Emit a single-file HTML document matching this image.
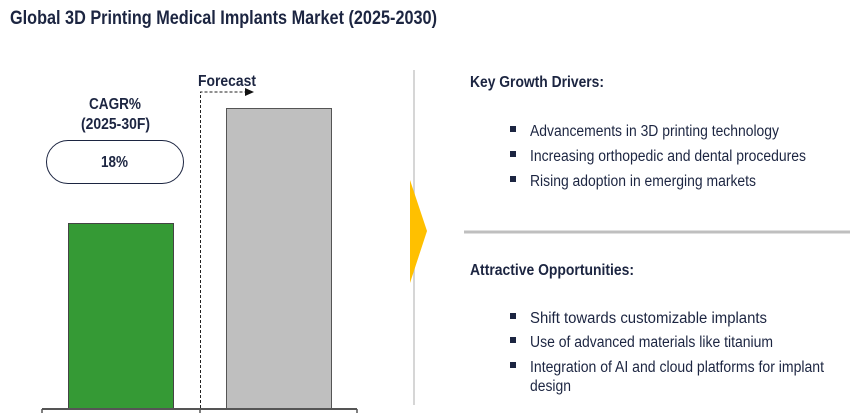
<!DOCTYPE html>
<html><head><style>
html,body{margin:0;padding:0;background:#fff;}
svg{display:block;}
text{font-family:"Liberation Sans",Arial,sans-serif;fill:#1c2541;}
.b{font-weight:bold;}
</style></head><body>
<svg width="867" height="420" viewBox="0 0 867 420" xmlns="http://www.w3.org/2000/svg">
<text x="10" y="24" class="b" font-size="19" textLength="427" lengthAdjust="spacingAndGlyphs">Global 3D Printing Medical Implants Market (2025-2030)</text>
<rect x="68.5" y="223.5" width="105" height="185" fill="#359a35" stroke="#444" stroke-width="1"/>
<rect x="226.5" y="108.5" width="105" height="300" fill="#bfbfbf" stroke="#555" stroke-width="1"/>
<line x1="42" y1="409" x2="357" y2="409" stroke="#555" stroke-width="2"/>
<line x1="42" y1="409" x2="42" y2="413" stroke="#555" stroke-width="1.5"/>
<line x1="200" y1="409" x2="200" y2="413" stroke="#555" stroke-width="1.5"/>
<line x1="357" y1="409" x2="357" y2="413" stroke="#555" stroke-width="1.5"/>
<path d="M200.5 408 V92 H246" fill="none" stroke="#222" stroke-width="1" stroke-dasharray="3,2"/>
<polygon points="245,88 254,92 245,96" fill="#111"/>
<text x="198" y="86" class="b" font-size="15.5" textLength="58" lengthAdjust="spacingAndGlyphs">Forecast</text>
<text x="89" y="109" class="b" font-size="15.5" textLength="52" lengthAdjust="spacingAndGlyphs">CAGR%</text>
<text x="81" y="129" class="b" font-size="15.5" textLength="69" lengthAdjust="spacingAndGlyphs">(2025-30F)</text>
<rect x="46.5" y="140.5" width="137" height="43" rx="21.5" fill="#fff" stroke="#1c2541" stroke-width="1"/>
<text x="101" y="167" class="b" font-size="15.5" textLength="27" lengthAdjust="spacingAndGlyphs">18%</text>
<line x1="414" y1="70" x2="414" y2="405" stroke="#c8c8c8" stroke-width="1.5"/>
<polygon points="410,180 427,231 410,283" fill="#ffc000"/>
<line x1="464" y1="232" x2="850" y2="232" stroke="#bfbfbf" stroke-width="3"/>
<text x="470" y="87" class="b" font-size="15.5" textLength="134" lengthAdjust="spacingAndGlyphs">Key Growth Drivers:</text>
<rect x="510" y="126" width="6" height="6" fill="#1c2541"/>
<text x="530" y="136" font-size="15.5" textLength="249" lengthAdjust="spacingAndGlyphs">Advancements in 3D printing technology</text>
<rect x="510" y="151" width="6" height="6" fill="#1c2541"/>
<text x="530" y="161" font-size="15.5" textLength="276" lengthAdjust="spacingAndGlyphs">Increasing orthopedic and dental procedures</text>
<rect x="510" y="176" width="6" height="6" fill="#1c2541"/>
<text x="530" y="186" font-size="15.5" textLength="226" lengthAdjust="spacingAndGlyphs">Rising adoption in emerging markets</text>
<text x="470" y="275" class="b" font-size="15.5" textLength="164" lengthAdjust="spacingAndGlyphs">Attractive Opportunities:</text>
<rect x="510" y="313" width="6" height="6" fill="#1c2541"/>
<text x="530" y="323" font-size="15.5" textLength="237" lengthAdjust="spacingAndGlyphs">Shift towards customizable implants</text>
<rect x="510" y="337" width="6" height="6" fill="#1c2541"/>
<text x="530" y="347" font-size="15.5" textLength="243" lengthAdjust="spacingAndGlyphs">Use of advanced materials like titanium</text>
<rect x="510" y="362" width="6" height="6" fill="#1c2541"/>
<text x="530" y="372" font-size="15.5" textLength="294" lengthAdjust="spacingAndGlyphs">Integration of AI and cloud platforms for implant</text>
<text x="530" y="391" font-size="15.5" textLength="41" lengthAdjust="spacingAndGlyphs">design</text>
</svg>
</body></html>
